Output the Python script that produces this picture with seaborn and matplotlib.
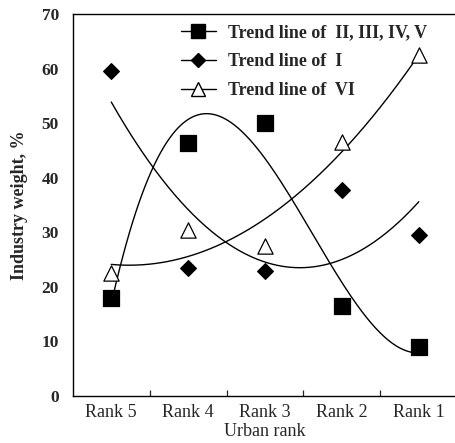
import numpy as np
import pandas as pd
import seaborn as sns
import matplotlib.pyplot as plt

RANKS = ['Rank 5', 'Rank 4', 'Rank 3', 'Rank 2', 'Rank 1']
GROUP_2_5 = [18.0, 46.4, 50.0, 16.5, 9.0]     # squares
GROUP_1 = [59.5, 23.5, 23.0, 37.8, 29.5]      # diamonds
GROUP_6 = [22.5, 30.5, 27.5, 46.5, 62.5]      # triangles
LABELS = ['Trend line of  II, III, IV, V',
          'Trend line of  I',
          'Trend line of  VI']
FIT_DEGREE = [3, 2, 2]

sns.set_style('ticks')
plt.rcParams['font.family'] = ['Liberation Serif', 'DejaVu Serif']

fig = plt.figure(figsize=(4.55, 4.43), dpi=100)
ax = fig.add_axes([0.160, 0.106, 0.845, 0.862])

xpos = np.arange(len(RANKS))
points = []
curves = []
for label, vals, deg in zip(LABELS, [GROUP_2_5, GROUP_1, GROUP_6], FIT_DEGREE):
    for x, v in zip(xpos, vals):
        points.append({'x': x, 'y': v, 'series': label})
    # polynomial trend line fitted to the points
    coef = np.polyfit(xpos, vals, deg)
    xs = np.linspace(0, 4, 200)
    for x, y in zip(xs, np.polyval(coef, xs)):
        curves.append({'x': x, 'y': y, 'series': label})
df_pts = pd.DataFrame(points)
df_fit = pd.DataFrame(curves)

markers = {LABELS[0]: 's', LABELS[1]: 'D', LABELS[2]: '^'}
msize = {LABELS[0]: 11, LABELS[1]: 8, LABELS[2]: 11}

sns.lineplot(data=df_fit, x='x', y='y', hue='series', palette=['black'] * 3,
             lw=1.0, ax=ax, legend=False, sort=False)
for label in LABELS:
    sub = df_pts[df_pts['series'] == label]
    face = 'white' if label == LABELS[2] else 'black'
    sns.scatterplot(data=sub, x='x', y='y', marker=markers[label], s=msize[label] ** 2,
                    color=face, edgecolor='black', linewidth=0.9, ax=ax, zorder=5)

handles = [plt.Line2D([], [], color='black', lw=1.0, marker=markers[l],
                      markersize=msize[l] * 0.9,
                      markerfacecolor='white' if l == LABELS[2] else 'black',
                      markeredgecolor='black') for l in LABELS]
leg = ax.legend(handles, LABELS, loc='upper left', bbox_to_anchor=(0.24, 1.015),
                frameon=False, handlelength=1.9, handletextpad=0.7, labelspacing=0.65,
                prop={'family': 'Liberation Serif', 'weight': 'bold', 'size': 13})

ax.set_xlim(-0.5, 4.5)
ax.set_ylim(0, 70)
ax.set_yticks(range(0, 71, 10))
ax.set_xticks(xpos)
ax.set_xticklabels(RANKS, fontsize=13)
ax.set_xticks(xpos[:-1] + 0.5, minor=True)
ax.tick_params(axis='x', which='major', length=0, pad=6)
ax.tick_params(axis='x', which='minor', direction='in', length=4, width=0.9)
ax.tick_params(axis='y', direction='in', length=0, pad=10, labelsize=12.5)
for t in ax.get_yticklabels():
    t.set_fontweight('bold')
ax.set_xlabel('Urban rank', fontsize=13, labelpad=1)
ax.set_ylabel('Industry weight, %', fontsize=13, fontweight='bold', labelpad=10)
ax.spines['right'].set_visible(False)
for s in ['left', 'bottom', 'top']:
    ax.spines[s].set_linewidth(1.0)
    ax.spines[s].set_color('black')

fig.savefig('out.png', dpi=100)
